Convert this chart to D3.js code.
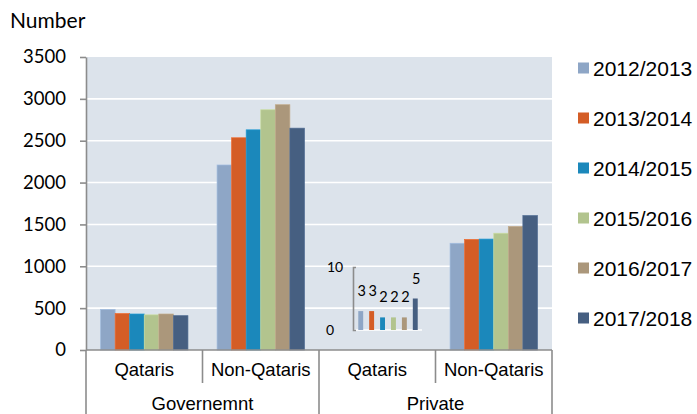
<!DOCTYPE html>
<html>
<head>
<meta charset="utf-8">
<script src="https://cdn.jsdelivr.net/npm/d3@7"></script>
<style>
  html, body { margin: 0; padding: 0; background: #ffffff; }
  svg { display: block; }
</style>
</head>
<body>
<svg id="chart" width="697" height="414"></svg>
<script>
// Employees by sector and nationality, per academic year
const categories = ["Qataris", "Non-Qataris", "Qataris", "Non-Qataris"];
const sectors = ["Governemnt", "Private"];
const years = ["2012/2013", "2013/2014", "2014/2015", "2015/2016", "2016/2017", "2017/2018"];

// values per year, in the order of `categories`
const v2012 = [485, 2210, 3, 1275];
const v2013 = [435, 2535, 3, 1320];
const v2014 = [430, 2630, 2, 1325];
const v2015 = [420, 2870, 2, 1395];
const v2016 = [430, 2930, 2, 1475];
const v2017 = [410, 2650, 5, 1605];
const series = [v2012, v2013, v2014, v2015, v2016, v2017];

const colors = ["#8EA6C6", "#D45D26", "#1B88BB", "#B2C48E", "#AB977B", "#465F81"];
const yTicks = [0, 500, 1000, 1500, 2000, 2500, 3000, 3500];
const insetTicks = [0, 10];
const insetIndex = 2; // Private / Qataris is too small for the main axis

const svg = d3.select("#chart");
const plot = { left: 86, right: 552, top: 57, bottom: 350 };
const axisGray = "#8C8C8C";
const numFont = "Lato, 'Open Sans', sans-serif";
const txtFont = "'Liberation Sans', Arial, sans-serif";

const x = d3.scaleBand().domain(d3.range(categories.length))
  .range([plot.left, plot.right]).paddingInner(0).paddingOuter(0);
const xs = d3.scaleBand().domain(d3.range(years.length))
  .range([0, x.bandwidth()]).paddingInner(0).paddingOuter(1);
const y = d3.scaleLinear().domain([0, 3500]).range([plot.bottom, plot.top]);

// plot background
svg.append("rect")
  .attr("x", plot.left).attr("y", plot.top)
  .attr("width", plot.right - plot.left).attr("height", plot.bottom - plot.top)
  .attr("fill", "#DCE3EB");

// gridlines
svg.append("g").selectAll("line")
  .data(yTicks.filter(t => t > 0 && t < 3500))
  .join("line")
  .attr("x1", plot.left).attr("x2", plot.right)
  .attr("y1", d => y(d)).attr("y2", d => y(d))
  .attr("stroke", "#ffffff").attr("stroke-width", 1.6);

// bars
const rows = [];
series.forEach((vals, si) => vals.forEach((v, ci) => {
  if (ci !== insetIndex) rows.push({ si, ci, v });
}));
svg.append("g").selectAll("rect").data(rows).join("rect")
  .attr("x", d => x(d.ci) + xs(d.si))
  .attr("width", xs.bandwidth())
  .attr("y", d => y(d.v))
  .attr("height", d => y(0) - y(d.v))
  .attr("fill", d => colors[d.si])
  .attr("stroke", d => d3.color(colors[d.si]).brighter(0.35))
  .attr("stroke-width", 0.7);

// y axis
const yAxis = svg.append("g")
  .attr("transform", `translate(${plot.left},0)`)
  .call(d3.axisLeft(y).tickValues(yTicks).tickFormat(d3.format("d"))
    .tickSizeInner(6).tickSizeOuter(0).tickPadding(14));
yAxis.select(".domain").attr("stroke", axisGray).attr("stroke-width", 1.6);
yAxis.selectAll(".tick line").attr("stroke", axisGray).attr("stroke-width", 1.6);
yAxis.selectAll(".tick text")
  .attr("font-family", numFont).attr("font-size", 18.5).attr("fill", "#000");

svg.append("text")
  .attr("x", 10).attr("y", 28)
  .attr("font-family", numFont).attr("font-size", 21)
  .attr("fill", "#000").text("Number");

// x axis: two-level category labels
const xg = svg.append("g");
xg.append("line")
  .attr("x1", plot.left).attr("x2", plot.right)
  .attr("y1", plot.bottom).attr("y2", plot.bottom)
  .attr("stroke", axisGray).attr("stroke-width", 1.6);
const dividers = d3.range(categories.length + 1);
xg.selectAll("line.div").data(dividers).join("line")
  .attr("class", "div")
  .attr("x1", d => d === categories.length ? plot.right : x(d))
  .attr("x2", d => d === categories.length ? plot.right : x(d))
  .attr("y1", plot.bottom)
  .attr("y2", d => d % 2 === 0 ? 414 : 383)
  .attr("stroke", axisGray).attr("stroke-width", 1.6);
xg.selectAll("text.cat").data(categories).join("text")
  .attr("class", "cat")
  .attr("x", (d, i) => x(i) + x.bandwidth() / 2)
  .attr("y", 376)
  .attr("text-anchor", "middle")
  .attr("font-family", txtFont).attr("font-size", 18.5).attr("fill", "#000")
  .text(d => d);
xg.selectAll("text.sec").data(sectors).join("text")
  .attr("class", "sec")
  .attr("x", (d, i) => x(i * 2) + x.bandwidth())
  .attr("y", 409.5)
  .attr("text-anchor", "middle")
  .attr("font-family", txtFont).attr("font-size", 18.5).attr("fill", "#000")
  .text(d => d);

// inset scale for the small Private / Qataris values
const yi = d3.scaleLinear().domain([0, 10]).range([330, 267]);
const xi = d3.scaleBand().domain(d3.range(years.length))
  .range([355, 421]).paddingInner(0.55).paddingOuter(0.3);
const insetVals = series.map(s => s[insetIndex]);

svg.append("line")
  .attr("x1", 353).attr("x2", 422)
  .attr("y1", yi(0)).attr("y2", yi(0))
  .attr("stroke", "#ffffff").attr("stroke-width", 1.6);

svg.append("g").selectAll("rect").data(insetVals).join("rect")
  .attr("x", (d, i) => xi(i))
  .attr("width", xi.bandwidth())
  .attr("y", d => yi(d))
  .attr("height", d => yi(0) - yi(d))
  .attr("fill", (d, i) => colors[i]);

const ia = svg.append("g")
  .attr("transform", "translate(353,0)")
  .call(d3.axisRight(yi).tickValues([]).tickSizeOuter(3));
ia.select(".domain").attr("stroke", axisGray).attr("stroke-width", 1.6).attr("fill", "none");

svg.append("g").selectAll("text").data(insetTicks).join("text")
  .attr("x", d => d === 10 ? 327 : 326)
  .attr("y", d => yi(d))
  .attr("dy", "0.36em")
  .attr("text-anchor", "start")
  .attr("font-family", numFont).attr("font-size", 14).attr("fill", "#000")
  .text(d => d);

svg.append("g").selectAll("text").data(insetVals).join("text")
  .attr("x", (d, i) => xi(i) + xi.bandwidth() / 2 + 1)
  .attr("y", d => yi(d) - 15)
  .attr("text-anchor", "middle")
  .attr("font-family", numFont).attr("font-size", 14.5).attr("fill", "#000")
  .text(d => d);

// legend
const lg = svg.append("g").selectAll("g").data(years).join("g")
  .attr("transform", (d, i) => `translate(578,${68 + i * 50})`);
lg.append("rect")
  .attr("x", 0).attr("y", -5.5).attr("width", 11).attr("height", 11)
  .attr("fill", (d, i) => colors[i]);
lg.append("text")
  .attr("x", 15).attr("y", 0).attr("dy", "0.36em")
  .attr("font-family", txtFont).attr("font-size", 21).attr("fill", "#000")
  .text(d => d);
</script>
</body>
</html>
